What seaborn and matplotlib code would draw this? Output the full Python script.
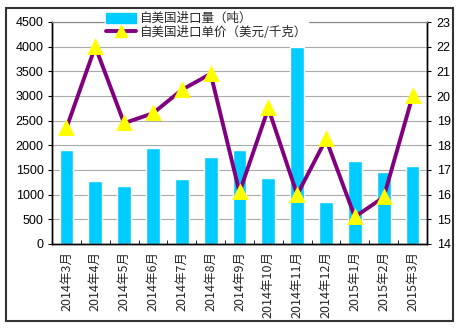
import matplotlib
matplotlib.use("Agg")
import matplotlib.pyplot as plt
import seaborn as sns
import pandas as pd
import numpy as np
from matplotlib.patches import Rectangle
from matplotlib.lines import Line2D

months = ["2014年3月", "2014年4月", "2014年5月", "2014年6月", "2014年7月", "2014年8月",
          "2014年9月", "2014年10月", "2014年11月", "2014年12月", "2015年1月", "2015年2月", "2015年3月"]
volume = [1900, 1280, 1170, 1950, 1320, 1770, 1900, 1340, 4000, 850, 1680, 1460, 1590]
price = [18.7, 22.0, 18.9, 19.3, 20.25, 20.9, 16.1, 19.5, 16.0, 18.25, 15.1, 15.9, 20.0]
label_vol = "自美国进口量（吨）"
label_price = "自美国进口单价（美元/千克）"

sns.set_style("white")
plt.rcParams['font.family'] = ['Liberation Sans', 'Noto Sans CJK SC', 'DejaVu Sans']

df = pd.DataFrame({"month": months, "volume": volume, "price": price})

fig = plt.figure(figsize=(4.6, 3.28), dpi=100)
ax = fig.add_axes([52/460, 1-244/328, (427-52)/460, (244-22)/328])

bar_color = "#00CCFF"
line_color = "#800080"

sns.barplot(data=df, x="month", y="volume", ax=ax, color=bar_color, width=0.48,
            saturation=1, zorder=2)
ax.set_ylim(0, 4500)
ax.set_yticks(np.arange(0, 4501, 500))
ax.yaxis.grid(True, color="#AAAAAA", linewidth=0.8, zorder=0)
ax.set_axisbelow(True)
ax.set_xlim(-0.5, len(months) - 0.5)
ax.set_xlabel("")
ax.set_ylabel("")

ax2 = ax.twinx()
sns.pointplot(data=df, x="month", y="price", ax=ax2, color=line_color, markers="^",
              linewidth=2.8, markersize=9, markerfacecolor="#FFFF00",
              markeredgecolor="#FFFF00")
ax2.set_ylim(14, 23)
ax2.set_yticks(np.arange(14, 24, 1))
ax2.set_xlim(-0.5, len(months) - 0.5)
ax2.set_xlabel("")
ax2.set_ylabel("")

for a in (ax, ax2):
    for side in ("left", "right", "bottom"):
        a.spines[side].set_color("black")
        a.spines[side].set_linewidth(1.0)
    a.spines["top"].set_color("#888888")
    a.spines["top"].set_linewidth(0.8)

ax.tick_params(axis="y", labelsize=9, length=3, left=True, direction="out", pad=3, colors="black")
ax2.tick_params(axis="y", labelsize=9, length=3, right=True, direction="out", pad=4, colors="black")

ax.set_xticks(np.arange(len(months)))
ax.set_xticklabels(months, rotation=90, fontsize=9, family=['Noto Sans CJK SC', 'DejaVu Sans'])
ax.tick_params(axis="x", length=0, pad=5)
ax.set_xticks(np.arange(len(months) + 1) - 0.5, minor=True)
ax.tick_params(axis="x", which="minor", length=3, direction="in", bottom=True, color="black")

handles = [Rectangle((0, 0), 1, 1, color=bar_color),
           Line2D([0], [0], color=line_color, linewidth=2.8, marker="^",
                  markerfacecolor="#FFFF00", markeredgecolor="#FFFF00", markersize=8)]
leg = ax2.legend(handles, [label_vol, label_price], loc="upper left",
                 bbox_to_anchor=(0.14, 1.05), frameon=True, fancybox=False,
                 edgecolor="white", facecolor="white", framealpha=1,
                 prop={"family": ['Noto Sans CJK SC', 'DejaVu Sans'], "size": 9},
                 handlelength=2.4, handleheight=0.8, labelspacing=0.05,
                 borderpad=0.1, handletextpad=0.3, borderaxespad=0)

fig.patches.append(Rectangle((6/460, 1-321/328), (453-6)/460, (321-8)/328,
                             transform=fig.transFigure, fill=False,
                             edgecolor="#333333", linewidth=1.5))

fig.savefig("out.png", dpi=100)
